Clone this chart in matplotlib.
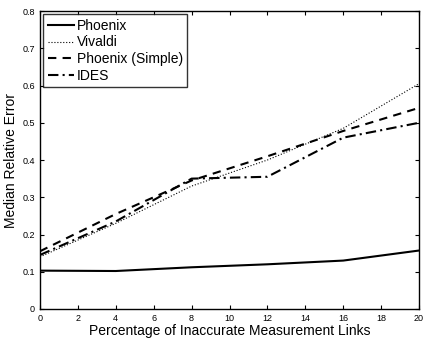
import matplotlib
matplotlib.use("Agg")
import matplotlib.pyplot as plt

plt.rcParams['font.family'] = ['Liberation Sans', 'DejaVu Sans']

# Percentage of inaccurate measurement links
pct = [0, 4, 8, 12, 16, 20]

phoenix = [0.103, 0.102, 0.112, 0.120, 0.130, 0.157]
vivaldi = [0.140, 0.230, 0.330, 0.400, 0.485, 0.605]
phoenix_simple = [0.155, 0.255, 0.345, 0.410, 0.478, 0.540]
ides = [0.145, 0.235, 0.350, 0.355, 0.460, 0.500]

xticks = list(range(0, 21, 2))
yticks = [0, 0.1, 0.2, 0.3, 0.4, 0.5, 0.6, 0.7, 0.8]

fig = plt.figure(figsize=(4.25, 3.39), dpi=100)
ax = fig.add_axes([0.094, 0.0885, 0.892, 0.879])

ax.plot(pct, phoenix, color='black', linestyle='-', linewidth=1.5, label='Phoenix')
ax.plot(pct, vivaldi, color='black', linestyle=':', linewidth=0.8, label='Vivaldi')
ax.plot(pct, phoenix_simple, color='black', linestyle=(0, (4, 3)), linewidth=1.5,
        label='Phoenix (Simple)')
ax.plot(pct, ides, color='black', linestyle=(0, (5, 2, 1, 2)), linewidth=1.5, label='IDES')

ax.set_xlim(0, 20)
ax.set_ylim(0, 0.8)
ax.set_xticks(xticks)
ax.set_yticks(yticks)
ax.set_xticklabels([str(t) for t in xticks])
ax.set_yticklabels(['0'] + ['%.1f' % t for t in yticks[1:]])
ax.tick_params(direction='in', top=True, right=True, labelsize=6.5, length=3, width=0.8)

for s in ax.spines.values():
    s.set_linewidth(1.0)

ax.set_xlabel('Percentage of Inaccurate Measurement Links', fontsize=10, labelpad=1)
ax.set_ylabel('Median Relative Error', fontsize=10, labelpad=3)

leg = ax.legend(loc='upper left', fontsize=10, frameon=True, fancybox=False,
                handlelength=1.9, handletextpad=0.2, borderpad=0.3, labelspacing=0.2,
                borderaxespad=0.25)
leg.get_frame().set_edgecolor('black')
leg.get_frame().set_linewidth(1.0)

fig.savefig('out.png', dpi=100)
